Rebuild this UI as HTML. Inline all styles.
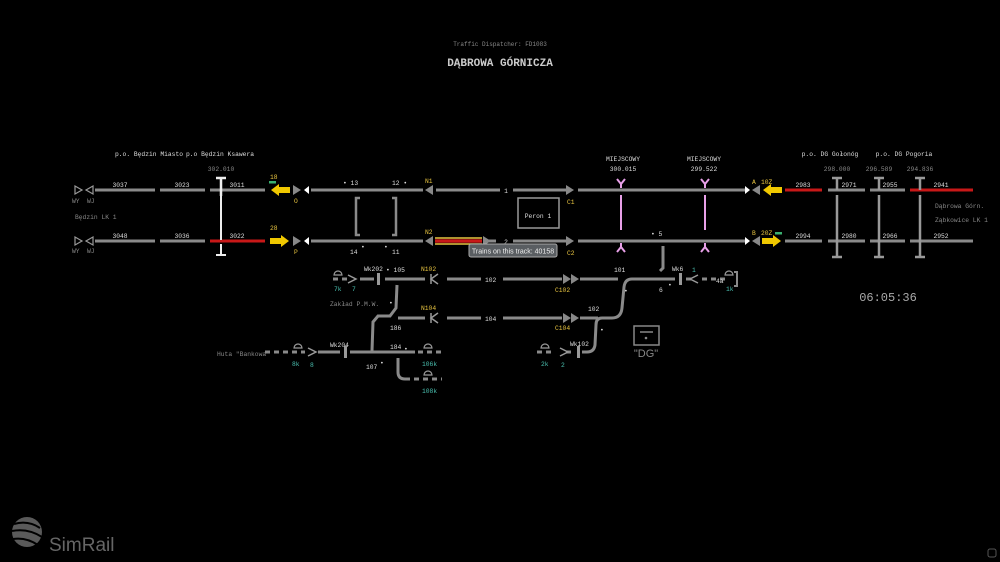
<!DOCTYPE html>
<html><head><meta charset="utf-8"><style>
html,body{margin:0;padding:0;background:#000;width:1000px;height:562px;overflow:hidden}
svg{display:block}
text{font-family:"Liberation Mono",monospace;font-size:6.3px;fill:#ddd}
.y{fill:#e8c440}.c{fill:#4ac0b0}.g{fill:#888}
.t{stroke:#8a8a8a;stroke-width:3;fill:none}
.d{stroke:#8a8a8a;stroke-width:3;fill:none;stroke-dasharray:5 4}
</style></head><body>
<svg width="1000" height="562" viewBox="0 0 1000 562" xmlns="http://www.w3.org/2000/svg">
<text x="500" y="46" text-anchor="middle" class="g" style="font-size:6px">Traffic Dispatcher: FD1083</text>
<text x="500" y="66" text-anchor="middle" style="font-size:11px;fill:#ccc;font-weight:bold">DĄBROWA GÓRNICZA</text>
<text x="149" y="156" text-anchor="middle">p.o. Będzin Miasto</text>
<text x="220" y="156" text-anchor="middle">p.o Będzin Ksawera</text>
<text x="221" y="171" text-anchor="middle" class="g">302.010</text>
<text x="623" y="161" text-anchor="middle">MIEJSCOWY</text><text x="623" y="171" text-anchor="middle">300.015</text>
<text x="704" y="161" text-anchor="middle">MIEJSCOWY</text><text x="704" y="171" text-anchor="middle">299.522</text>
<text x="830" y="156" text-anchor="middle">p.o. DG Gołonóg</text>
<text x="904" y="156" text-anchor="middle">p.o. DG Pogoria</text>
<text x="837" y="171" text-anchor="middle" class="g">298.000</text>
<text x="879" y="171" text-anchor="middle" class="g">296.589</text>
<text x="920" y="171" text-anchor="middle" class="g">294.836</text>
<text x="935" y="208" class="g">Dąbrowa Górn.</text>
<text x="935" y="222" class="g">Ząbkowice LK 1</text>
<text x="75" y="219" class="g">Będzin LK 1</text>
<g fill="none" stroke="#999" stroke-width="1.2">
<path d="M75 186 L82 190 L75 194Z"/><path d="M93 186 L86 190 L93 194Z"/>
<path d="M75 237 L82 241 L75 245Z"/><path d="M93 237 L86 241 L93 245Z"/>
</g>
<text x="72" y="203" class="g">WY</text><text x="87" y="203" class="g">WJ</text>
<text x="72" y="253" class="g">WY</text><text x="87" y="253" class="g">WJ</text>
<g class="t">
<path d="M95 190H155M160 190H205M210 190H265M311 190H423M436 190H500M513 190H566M578 190H745M828 190H865M870 190H905"/>
<path d="M95 241H155M160 241H205M311 241H423M513 241H566M578 241H745M785 241H822M828 241H865M870 241H905M910 241H973"/>
</g>
<path d="M785 190H822M910 190H973" stroke="#c81818" stroke-width="3"/>
<path d="M210 241H265" stroke="#c81818" stroke-width="3"/>
<path d="M435 238H482M435 244H482" stroke="#e8c440" stroke-width="1.5"/>
<path d="M435 241H482" stroke="#c81818" stroke-width="3.5"/>
<path d="M488 241H496" stroke="#8a8a8a" stroke-width="3"/>
<text x="120" y="187" text-anchor="middle">3037</text><text x="182" y="187" text-anchor="middle">3023</text><text x="237" y="187" text-anchor="middle">3011</text>
<text x="120" y="238" text-anchor="middle">3048</text><text x="182" y="238" text-anchor="middle">3036</text><text x="237" y="238" text-anchor="middle">3022</text>
<text x="803" y="187" text-anchor="middle">2983</text><text x="849" y="187" text-anchor="middle">2971</text><text x="890" y="187" text-anchor="middle">2955</text><text x="941" y="187" text-anchor="middle">2941</text>
<text x="803" y="238" text-anchor="middle">2994</text><text x="849" y="238" text-anchor="middle">2980</text><text x="890" y="238" text-anchor="middle">2966</text><text x="941" y="238" text-anchor="middle">2952</text>
<path d="M221 178V196M216 178H226" stroke="#eee" stroke-width="2.5"/>
<path d="M221 196V240M221 244V255M216 255H226" stroke="#eee" stroke-width="2"/>
<g stroke="#999" stroke-width="2.5">
<path d="M837 178V190M832 178H842M879 178V190M874 178H884M920 178V190M915 178H925"/>
<path d="M837 195V257M832 257H842M879 195V257M874 257H884M920 195V257M915 257H925"/>
</g>
<path d="M360 198H356V235H360M392 198H396V235H392" stroke="#8a8a8a" stroke-width="2.5" fill="none"/>
<text x="343" y="185">• 13</text><text x="392" y="185">12 •</text>
<text x="350" y="254">14</text><text x="361" y="249">•</text><text x="384" y="249">•</text><text x="392" y="254">11</text>
<path d="M290 187H279V184L271 190L279 196V193H290Z" fill="#f0c800"/>
<rect x="269" y="181" width="7" height="2.5" fill="#3ab070"/>
<text x="270" y="179" class="y">18</text>
<path d="M270 238H281V235L289 241L281 247V244H270Z" fill="#f0c800"/>
<text x="270" y="230" class="y">28</text>
<path d="M293 185L301 190L293 195Z M293 236L301 241L293 246Z" fill="#888"/>
<path d="M309 186L304 190L309 194Z M309 237L304 241L309 245Z" fill="#fff"/>
<text x="294" y="203" class="y">O</text><text x="294" y="254" class="y">P</text>
<path d="M433 185L425 190L433 195Z M433 236L425 241L433 246Z" fill="#888"/>
<text x="425" y="183" class="y">N1</text><text x="425" y="234" class="y">N2</text>
<path d="M483 236L491 241L483 246Z" fill="#888"/>
<text x="506" y="193" text-anchor="middle">1</text><text x="506" y="244" text-anchor="middle">2</text>
<path d="M566 185L574 190L566 195Z M566 236L574 241L566 246Z" fill="#888"/>
<text x="567" y="204" class="y">C1</text><text x="567" y="255" class="y">C2</text>
<rect x="518" y="198" width="41" height="30" fill="none" stroke="#999" stroke-width="1.5"/>
<text x="538" y="218" text-anchor="middle">Peron 1</text>
<g stroke="#e8a0e8" stroke-width="2" fill="none">
<path d="M621 195V230M705 195V230"/>
<path d="M617 179L621 184L625 179M621 184V188M701 179L705 184L709 179M705 184V188"/>
<path d="M617 252L621 247L625 252M621 247V243M701 252L705 247L709 252M705 247V243"/>
</g>
<text x="651" y="236">• 5</text>
<path d="M745 186L750 190L745 194Z M745 237L750 241L745 245Z" fill="#fff"/>
<path d="M760 185L752 190L760 195Z M760 236L752 241L760 246Z" fill="#888"/>
<path d="M782 187H771V184L763 190L771 196V193H782Z" fill="#f0c800"/>
<path d="M762 238H773V235L781 241L773 247V244H762Z" fill="#f0c800"/>
<rect x="775" y="232" width="7" height="2.5" fill="#3ab070"/>
<text x="752" y="184" class="y">A</text><text x="761" y="184" class="y">10Z</text>
<text x="752" y="235" class="y">B</text><text x="761" y="235" class="y">20Z</text>
<rect x="469" y="244" width="88" height="13" rx="2" fill="#5a5e62" stroke="#aaa" stroke-width="1"/>
<text x="513" y="253.5" text-anchor="middle" style="font-family:'Liberation Sans',sans-serif;font-size:7px;fill:#eee">Trains on this track: 40158</text>
<g class="t">
<path d="M360 279H374M385 279H425M447 279H481M503 279H562M580 279H618"/>
<path d="M632 279H675M398 318H425M447 318H481M503 318H562M580 318H598"/>
<path d="M318 352H340M350 352H415"/>
<path d="M663 246V268L660 271"/>
<path d="M675 279H632Q625 279 624 287L622 308Q621 318 612 318H602Q596 318 596 325L595 345Q594 352 587 352H582"/>
<path d="M397 285L396 308L390 316H378L373 322L372 351"/>
<path d="M398 358V372Q398 379 405 379"/>
</g>
<g class="d">
<path d="M333 279H347M265 352H305M418 352H442M405 379H442M537 352H555M566 352H575M686 279H692M702 279H725"/>
</g>
<path d="M734 272H737V286H734" stroke="#8a8a8a" stroke-width="2" fill="none"/>
<g stroke="#999" stroke-width="1.5" fill="none">
<path d="M348 275L356 279L348 283M308 348L316 352L308 356M560 348L568 352L560 356M698 275L690 279L698 283"/>
<path d="M438 274L431 279L438 284M438 313L431 318L438 323"/>
</g>
<path d="M431 274V284M431 313V323" stroke="#999" stroke-width="1.5"/>
<path d="M563 274L571 279L563 284Z M571 274L579 279L571 284Z M563 313L571 318L563 323Z M571 313L579 318L571 323Z" fill="#888"/>
<rect x="377" y="273" width="3" height="12" fill="#999"/>
<rect x="344" y="346" width="3" height="12" fill="#999"/>
<rect x="577" y="346" width="3" height="12" fill="#999"/>
<rect x="679" y="273" width="3" height="12" fill="#999"/>
<g fill="none" stroke="#999" stroke-width="1.2">
<path d="M334 275A4 4 0 0 1 342 275Z M294 348A4 4 0 0 1 302 348Z M424 348A4 4 0 0 1 432 348Z M424 375A4 4 0 0 1 432 375Z M541 348A4 4 0 0 1 549 348Z M725 275A4 4 0 0 1 733 275Z"/>
</g>
<text x="364" y="271">Wk202</text><text x="386" y="272">• 105</text>
<text x="421" y="271" class="y">N102</text><text x="421" y="310" class="y">N104</text>
<text x="485" y="282">102</text><text x="485" y="321">104</text>
<text x="555" y="292" class="y">C102</text><text x="555" y="330" class="y">C104</text>
<text x="614" y="272">101</text><text x="588" y="311">102</text>
<text x="624" y="293">•</text><text x="600" y="332">•</text>
<text x="659" y="292">6</text><text x="668" y="287">•</text>
<text x="672" y="271">Wk6</text><text x="692" y="272" class="c">1</text>
<text x="716" y="283">4a</text><text x="726" y="291" class="c">1k</text>
<text x="334" y="291" class="c">7k</text><text x="352" y="291" class="c">7</text>
<text x="330" y="306" class="g">Zakład P.M.W.</text><text x="389" y="305">•</text>
<text x="390" y="330">186</text>
<text x="330" y="347">Wk204</text><text x="390" y="349">184</text><text x="404" y="351">•</text>
<text x="366" y="369">107</text><text x="380" y="365">•</text>
<text x="217" y="356" class="g">Huta "Bankowa"</text>
<text x="292" y="366" class="c">8k</text><text x="310" y="367" class="c">8</text>
<text x="422" y="366" class="c">106k</text><text x="422" y="393" class="c">108k</text>
<text x="570" y="346">Wk102</text>
<text x="541" y="366" class="c">2k</text><text x="561" y="367" class="c">2</text>
<rect x="634" y="326" width="25" height="19" fill="none" stroke="#888" stroke-width="1.5"/>
<path d="M640 332H653" stroke="#888" stroke-width="1.5"/><circle cx="646" cy="338" r="1.3" fill="#888"/>
<text x="646" y="357" text-anchor="middle" style="font-family:'Liberation Sans',sans-serif;font-size:11px;fill:#888">"DG"</text>
<text x="888" y="301" text-anchor="middle" style="font-size:12px;fill:#aaa">06:05:36</text>
<circle cx="27" cy="532" r="15" fill="#5a5a5a"/>
<path d="M14 524Q28 520 40 528M12 531Q28 528 42 537M13 539Q26 537 38 545" stroke="#000" stroke-width="2" fill="none"/>
<text x="49" y="551" style="font-family:'Liberation Sans',sans-serif;font-size:19px;fill:#666">SimRail</text>
<rect x="988" y="549" width="8" height="8" rx="2" fill="none" stroke="#555"/>
</svg>
</body></html>
